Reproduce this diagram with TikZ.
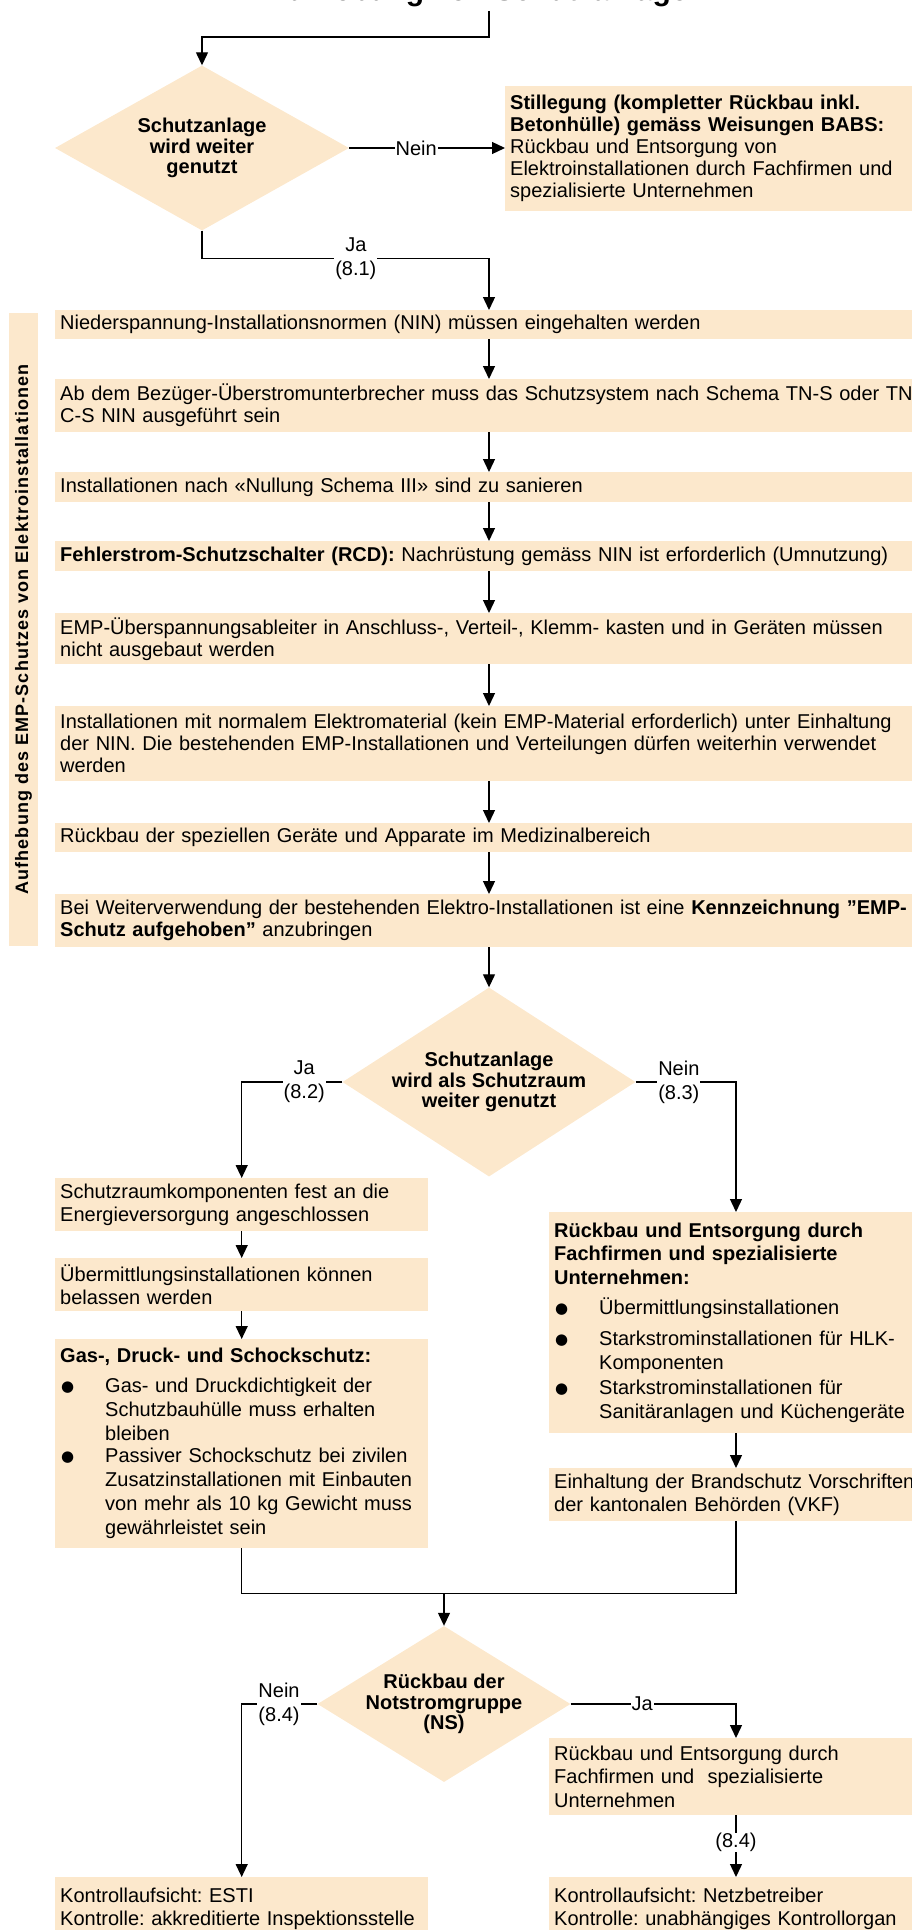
\documentclass[tikz,border=0pt]{standalone}
\usepackage{fontspec}
\setmainfont{Liberation Sans}
\newfontfamily\sidefont[LetterSpace=6]{Liberation Sans}
\newfontfamily\dotfont{DejaVu Sans}
\usetikzlibrary{arrows.meta,shapes.geometric,positioning}
\definecolor{peach}{RGB}{252,232,204}
\frenchspacing
\newcommand\bul[1]{\makebox[45pt][l]{\hspace{1pt}\raisebox{1pt}{\dotfont\fontsize{15}{15}\selectfont ●}}\parbox[t]{330pt}{\raggedright\fontsize{20}{24}\selectfont #1}}
\tikzset{
  box/.style={fill=peach, anchor=north west, inner xsep=5pt, inner ysep=0pt,
    align=left, font=\fontsize{20}{22}\selectfont},
  wide box/.style={box, text width=890pt},
  left box/.style={box, text width=363pt, font=\fontsize{20}{23.5}\selectfont},
  right box/.style={box, text width=390pt, font=\fontsize{20}{23.5}\selectfont},
  decision/.style={diamond, fill=peach, inner sep=0pt},
  decision text/.style={align=center, font=\bfseries\fontsize{20}{20.5}\selectfont},
  answer/.style={fill=white, inner xsep=1pt, inner ysep=0pt, align=center,
    font=\fontsize{20}{24}\selectfont},
  flow/.style={line width=1.3pt, -{Triangle[length=13pt,width=12pt]}},
  link/.style={line width=1.3pt},
}
\begin{document}
\begin{tikzpicture}[x=1pt,y=-1pt]
\useasboundingbox (0,0) rectangle (911,1930);
\coordinate (spine) at (489,0);
\coordinate (rcol) at (736,0);
\node[font=\bfseries\fontsize{30}{30}\selectfont, anchor=base] (title) at (486,1) {Aufhebung von Schutzanlagen};
% first question
\node[decision, minimum width=294pt, minimum height=165pt,
  label={[decision text]center:Schutzanlage\\wird weiter\\genutzt}] (d1) at (202,148) {};
\node[wide box, minimum height=125pt] (stop) at (505,86) {\textbf{Stillegung (kompletter Rückbau inkl.}\\\textbf{Betonhülle) gemäss Weisungen BABS:}\\Rückbau und Entsorgung von\\Elektroinstallationen durch Fachfirmen und\\spezialisierte Unternehmen};
% sidebar and main column
\node[fill=peach, rotate=90, minimum width=633pt, minimum height=29pt, inner sep=0pt,
  font=\sidefont\bfseries\fontsize{18}{18}\selectfont] (side) at (23.5,629.5) {Aufhebung des EMP-Schutzes von Elektroinstallationen};
\node[wide box, minimum height=29pt] (n1) at (55,310) {Niederspannung-Installationsnormen (NIN) müssen eingehalten werden};
\node[wide box, minimum height=53pt] (n2) at (55,379) {Ab dem Bezüger-Überstromunterbrecher muss das Schutzsystem nach Schema TN-S oder TN-\\C-S NIN ausgeführt sein};
\node[wide box, minimum height=30pt] (n3) at (55,472) {Installationen nach «Nullung Schema III» sind zu sanieren};
\node[wide box, minimum height=30pt] (n4) at (55,541) {\textbf{Fehlerstrom-Schutzschalter (RCD):} Nachrüstung gemäss NIN ist erforderlich (Umnutzung)};
\node[wide box, minimum height=51pt] (n5) at (55,613) {EMP-Überspannungsableiter in Anschluss-, Verteil-, Klemm- kasten und in Geräten müssen\\nicht ausgebaut werden};
\node[wide box, minimum height=75pt] (n6) at (55,706) {Installationen mit normalem Elektromaterial (kein EMP-Material erforderlich) unter Einhaltung\\der NIN. Die bestehenden EMP-Installationen und Verteilungen dürfen weiterhin verwendet\\werden};
\node[wide box, minimum height=29pt] (n7) at (55,823) {Rückbau der speziellen Geräte und Apparate im Medizinalbereich};
\node[wide box, minimum height=53pt] (n8) at (55,894) {Bei Weiterverwendung der bestehenden Elektro-Installationen ist eine \textbf{Kennzeichnung \symbol{34}EMP-}\\\textbf{Schutz aufgehoben\symbol{34}} anzubringen};
% second question
\node[decision, minimum width=293pt, minimum height=189pt,
  label={[decision text]center:Schutzanlage\\wird als Schutzraum\\weiter genutzt}] (d2) at (489,1082) {};
\node[left box, minimum height=53pt] (l1) at (55,1178) {Schutzraumkomponenten fest an die\\Energieversorgung angeschlossen};
\node[left box, minimum height=53pt] (l2) at (55,1258) {Übermittlungsinstallationen können\\belassen werden};
\node[left box, minimum height=209pt] (l3) at (55,1339) {\textbf{Gas-, Druck- und Schockschutz:}\\[6.5pt]
  \bul{Gas- und Druckdichtigkeit der\\Schutzbauhülle muss erhalten\\bleiben}\\[6.5pt]
  \bul{Passiver Schockschutz bei zivilen\\Zusatzinstallationen mit Einbauten\\von mehr als 10 kg Gewicht muss\\gewährleistet sein}};
\node[right box, minimum height=221pt] (r1) at (549,1212) {\textbf{Rückbau und Entsorgung durch}\\\textbf{Fachfirmen und spezialisierte}\\\textbf{Unternehmen:}\\[7pt]
  \bul{Übermittlungsinstallationen}\\[7pt]
  \bul{Starkstrominstallationen für HLK-\\Komponenten}\\[6pt]
  \bul{Starkstrominstallationen für\\Sanitäranlagen und Küchengeräte}};
\node[right box, minimum height=53pt] (r2) at (549,1468) {Einhaltung der Brandschutz Vorschriften\\der kantonalen Behörden (VKF)};
% third question
\node[decision, minimum width=253pt, minimum height=156pt,
  label={[decision text]center:Rückbau der\\Notstromgruppe\\(NS)}] (d3) at (444,1704) {};
\node[right box, minimum height=77pt] (r3) at (549,1738) {Rückbau und Entsorgung durch\\Fachfirmen und~ spezialisierte\\Unternehmen};
\node[left box, minimum height=63pt] (l4) at (55,1877) {Kontrollaufsicht: ESTI\\Kontrolle: akkreditierte Inspektionsstelle};
\node[right box, minimum height=63pt] (r4) at (549,1877) {Kontrollaufsicht: Netzbetreiber\\Kontrolle: unabhängiges Kontrollorgan};
% connectors
\draw[flow] (title.south -| spine) -- ++(0,26) -| (d1.north);
\draw[flow] (d1.east) -- node[answer, pos=0.43] {Nein} (d1.east -| stop.west);
\draw[flow] (d1.south) -- ++(0,28) -| node[answer, pos=0.268] {Ja\\(8.1)} (n1.north -| spine);
\draw[flow] (n1.south -| spine) -- (n2.north -| spine);
\draw[flow] (n2.south -| spine) -- (n3.north -| spine);
\draw[flow] (n3.south -| spine) -- (n4.north -| spine);
\draw[flow] (n4.south -| spine) -- (n5.north -| spine);
\draw[flow] (n5.south -| spine) -- (n6.north -| spine);
\draw[flow] (n6.south -| spine) -- (n7.north -| spine);
\draw[flow] (n7.south -| spine) -- (n8.north -| spine);
\draw[flow] (n8.south -| spine) -- (d2.north);
\draw[flow] (d2.west) -| node[answer, pos=0.189] {Ja\\(8.2)} (l1.north);
\draw[flow] (d2.east) -| node[answer, pos=0.215] {Nein\\(8.3)} (r1.north -| rcol);
\draw[flow] (l1.south) -- (l2.north);
\draw[flow] (l2.south) -- (l3.north);
\draw[flow] (r1.south -| rcol) -- (r2.north -| rcol);
\draw[link] (l3.south) -- ++(0,45) coordinate (merge) -| (r2.south -| rcol);
\draw[flow] (merge -| d3) -- (d3.north);
\draw[flow] (d3.west) -| node[answer, pos=0.253] {Nein\\(8.4)} (l4.north);
\draw[flow] (d3.east) -| node[answer, pos=0.216] {Ja} (r3.north -| rcol);
\draw[flow] (r3.south -| rcol) -- node[answer, pos=0.44] {(8.4)} (r4.north -| rcol);
\end{tikzpicture}
\end{document}
